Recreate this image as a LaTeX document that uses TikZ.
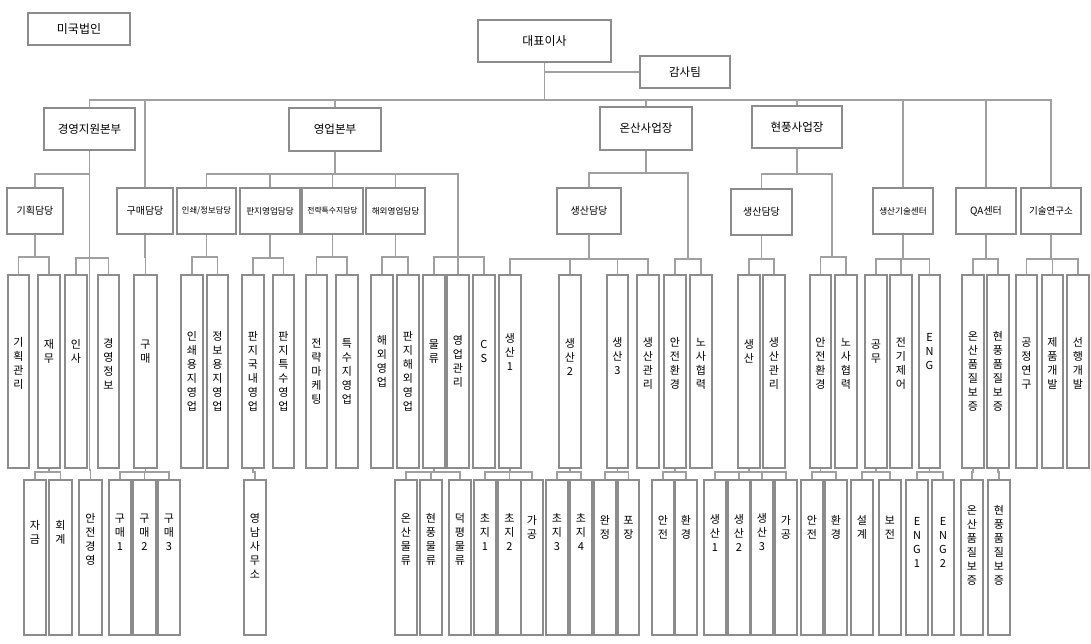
\documentclass[tikz,border=0pt]{standalone}
\usepackage{fontspec}
\setmainfont{Noto Sans CJK KR}
\definecolor{lg}{RGB}{160,160,160}
\definecolor{bg}{RGB}{140,140,140}
\tikzset{
 box/.style={draw=bg,line width=1.1pt,fill=white,inner sep=0pt,rectangle},
 txt/.style={inner sep=0pt,align=center,font=\fontsize{11pt}{14pt}\selectfont},
 ln/.style={draw=lg,line width=1.2pt}
}
\newcommand\bxx[7]{%
 \node[box,minimum width={(#3-#2)*1pt},minimum height={(#5-#4)*1pt}] (#1) at ({(#2+#3)/2},{(#4+#5)/2}) {};
 \node[txt] (#1t) at ({(#2+#3)/2},{(#4+#5)/2+#6}) {#7};}
\newcommand\cn[3]{\coordinate (tmpb) at (0,#2);
 \foreach \c in {#3} {\draw[ln] (#1.south) -- (#1.south |- tmpb) -| (\c.north);}}
\newcommand\cj[2]{\foreach \c in {#2} {\draw[ln] (#1) -| (\c.north);}}
\begin{document}
\begin{tikzpicture}[x=1pt,y=-1pt]
\useasboundingbox[fill=white] (0,0) rectangle (1091,643);
% level 0-1
\bxx{mi}{28}{130}{13}{45}{0}{\fontsize{12pt}{14pt}\selectfont 미국법인}
\bxx{ceo}{478}{611}{20}{62}{0}{\fontsize{12pt}{14pt}\selectfont 대표이사}
\bxx{audit}{640}{730}{56}{88}{0}{\fontsize{11.5pt}{14pt}\selectfont 감사팀}
\bxx{h1}{44}{135}{108}{150}{0}{\fontsize{11.5pt}{14pt}\selectfont 경영지원본부}
\bxx{h2}{289}{381}{108}{151}{0}{\fontsize{11.5pt}{14pt}\selectfont 영업본부}
\bxx{h3}{600}{692}{107}{150}{0}{\fontsize{11.5pt}{14pt}\selectfont 온산사업장}
\bxx{h4}{752}{842}{106}{148}{0}{\fontsize{11.5pt}{14pt}\selectfont 현풍사업장}
% level 2
\bxx{a1}{7}{63}{188}{234}{0}{\fontsize{10pt}{12pt}\selectfont 기획담당}
\bxx{a2}{117}{173}{188}{234}{0}{\fontsize{10pt}{12pt}\selectfont 구매담당}
\bxx{a3}{177}{236}{188}{234}{0}{\fontsize{8.3pt}{11pt}\selectfont 인쇄/정보담당}
\bxx{a4}{240}{300}{188}{234}{0}{\fontsize{8.6pt}{11pt}\selectfont 판지영업담당}
\bxx{a5}{302}{363}{188}{234}{0}{\fontsize{7.8pt}{11pt}\selectfont 전략특수지담당}
\bxx{a6}{366}{425}{188}{234}{0}{\fontsize{8.6pt}{11pt}\selectfont 해외영업담당}
\bxx{a7}{557}{621}{188}{234}{0}{\fontsize{10pt}{12pt}\selectfont 생산담당}
\bxx{a8}{731}{792}{189}{235}{0}{\fontsize{10pt}{12pt}\selectfont 생산담당}
\bxx{a9}{873}{933}{188}{234}{0}{\fontsize{8.6pt}{11pt}\selectfont 생산기술센터}
\bxx{a10}{956}{1016}{188}{234}{0}{\fontsize{10pt}{12pt}\selectfont QA센터}
\bxx{a11}{1021}{1081}{188}{234}{0}{\fontsize{9.5pt}{12pt}\selectfont 기술연구소}
% level 3
\def\ty{275}\def\by{468}\def\sh{-8}
\bxx{c1}{8}{29}{\ty}{\by}{\sh}{기\\획\\관\\리}
\bxx{c2}{38}{60}{\ty}{\by}{-20}{재\\무}
\bxx{c3}{65}{87}{\ty}{\by}{-20}{인\\사}
\bxx{c4}{98}{119}{\ty}{\by}{\sh}{경\\영\\정\\보}
\bxx{c5}{134}{157}{\ty}{\by}{-20}{구\\매}
\bxx{c6}{181}{203}{\ty}{\by}{0}{인\\쇄\\용\\지\\영\\업}
\bxx{c7}{207}{228}{\ty}{\by}{0}{정\\보\\용\\지\\영\\업}
\bxx{c8}{242}{264}{\ty}{\by}{0}{판\\지\\국\\내\\영\\업}
\bxx{c9}{273}{294}{\ty}{\by}{0}{판\\지\\특\\수\\영\\업}
\bxx{c10}{306}{327}{\ty}{\by}{0}{전\\략\\마\\케\\팅}
\bxx{c11}{336}{358}{\ty}{\by}{0}{특\\수\\지\\영\\업}
\bxx{c12}{371}{393}{\ty}{\by}{-10}{해\\외\\영\\업}
\bxx{c13}{397}{419}{\ty}{\by}{0}{판\\지\\해\\외\\영\\업}
\bxx{c14}{423}{445}{\ty}{\by}{-20}{물\\류}
\bxx{c15}{447}{469}{\ty}{\by}{-10}{영\\업\\관\\리}
\bxx{c16}{473}{495}{\ty}{\by}{-20}{C\\S}
\bxx{c17}{499}{521}{\ty}{\by}{-20}{생\\산\\1}
\bxx{c18}{559}{581}{\ty}{\by}{-15}{생\\산\\2}
\bxx{c19}{607}{628}{\ty}{\by}{-15}{생\\산\\3}
\bxx{c20}{637}{659}{\ty}{\by}{-8}{생\\산\\관\\리}
\bxx{c21}{664}{686}{\ty}{\by}{-8}{안\\전\\환\\경}
\bxx{c22}{690}{712}{\ty}{\by}{-8}{노\\사\\협\\력}
\bxx{c23}{738}{760}{\ty}{\by}{-20}{생\\산}
\bxx{c24}{763}{785}{\ty}{\by}{-8}{생\\산\\관\\리}
\bxx{c25}{810}{831}{\ty}{\by}{-8}{안\\전\\환\\경}
\bxx{c26}{835}{857}{\ty}{\by}{-8}{노\\사\\협\\력}
\bxx{c27}{865}{887}{\ty}{\by}{-20}{공\\무}
\bxx{c28}{890}{912}{\ty}{\by}{-8}{전\\기\\제\\어}
\bxx{c29}{919}{940}{\ty}{\by}{-20}{E\\N\\G}
\bxx{c30}{962}{984}{\ty}{\by}{0}{온\\산\\품\\질\\보\\증}
\bxx{c31}{987}{1009}{\ty}{\by}{0}{현\\풍\\품\\질\\보\\증}
\bxx{c32}{1016}{1037}{\ty}{\by}{-8}{공\\정\\연\\구}
\bxx{c33}{1042}{1063}{\ty}{\by}{-8}{제\\품\\개\\발}
\bxx{c34}{1067}{1089}{\ty}{\by}{-8}{선\\행\\개\\발}
% level 4
\def\ty{480}\def\by{635}\def\sh{-25}
\bxx{d1}{24}{46}{\ty}{\by}{\sh}{자\\금}
\bxx{d2}{49}{72}{\ty}{\by}{\sh}{회\\계}
\bxx{d3}{79}{102}{\ty}{\by}{-18}{안\\전\\경\\영}
\bxx{d4}{109}{131}{\ty}{\by}{\sh}{구\\매\\1}
\bxx{d5}{133}{156}{\ty}{\by}{\sh}{구\\매\\2}
\bxx{d6}{158}{180}{\ty}{\by}{\sh}{구\\매\\3}
\bxx{d7}{244}{266}{\ty}{\by}{-12}{영\\남\\사\\무\\소}
\bxx{d8}{395}{417}{\ty}{\by}{-18}{온\\산\\물\\류}
\bxx{d9}{420}{442}{\ty}{\by}{-18}{현\\풍\\물\\류}
\bxx{d10}{449}{471}{\ty}{\by}{-18}{덕\\평\\물\\류}
\bxx{d11}{474}{496}{\ty}{\by}{\sh}{초\\지\\1}
\bxx{d12}{498}{521}{\ty}{\by}{\sh}{초\\지\\2}
\bxx{d13}{521}{543}{\ty}{\by}{-30}{가\\공}
\bxx{d14}{546}{568}{\ty}{\by}{\sh}{초\\지\\3}
\bxx{d15}{570}{592}{\ty}{\by}{\sh}{초\\지\\4}
\bxx{d16}{594}{616}{\ty}{\by}{-30}{완\\정}
\bxx{d17}{618}{639}{\ty}{\by}{-30}{포\\장}
\bxx{d18}{652}{674}{\ty}{\by}{-30}{안\\전}
\bxx{d19}{675}{697}{\ty}{\by}{-30}{환\\경}
\bxx{d20}{704}{726}{\ty}{\by}{\sh}{생\\산\\1}
\bxx{d21}{728}{750}{\ty}{\by}{\sh}{생\\산\\2}
\bxx{d22}{751}{773}{\ty}{\by}{\sh}{생\\산\\3}
\bxx{d23}{775}{797}{\ty}{\by}{-30}{가\\공}
\bxx{d24}{801}{823}{\ty}{\by}{-30}{안\\전}
\bxx{d25}{825}{847}{\ty}{\by}{-30}{환\\경}
\bxx{d26}{851}{873}{\ty}{\by}{-30}{설\\계}
\bxx{d27}{879}{901}{\ty}{\by}{-30}{보\\전}
\bxx{d28}{906}{928}{\ty}{\by}{-15}{E\\N\\G\\1}
\bxx{d29}{932}{954}{\ty}{\by}{-15}{E\\N\\G\\2}
\bxx{d30}{961}{983}{\ty}{\by}{-12}{온\\산\\품\\질\\보\\증}
\bxx{d31}{988}{1010}{\ty}{\by}{-12}{현\\풍\\품\\질\\보\\증}
% connectors
\cn{ceo}{100}{h1,a2,h2,h3,h4,a9,a10,a11}
\coordinate (ja) at (ceo.south |- audit.west);
\draw[ln] (ja) -- (audit.west);
\cn{h1}{174}{a1}
\cn{h1}{258}{c3,c4}
\cn{h1}{470}{d3}
\cn{a1}{257}{c1,c2}
\cn{a2}{257}{c5}
\cn{h2}{174}{a3,a4,a5,a6,c15}
\coordinate (j2) at (c15.north |- 0,257);
\cj{j2}{c14,c16}
\cn{a3}{257}{c6,c7}
\cn{a4}{258}{c8,c9}
\cn{a5}{257}{c10,c11}
\cn{a6}{257}{c12,c13}
\cn{h3}{173}{a7}
\coordinate (j3) at (688,259);
\draw[ln] (h3.south) -- (h3.south |- 0,173) -| (j3);
\cj{j3}{c21,c22}
\cn{a7}{259}{c17,c18,c19,c20}
\cn{h4}{174}{a8}
\coordinate (j4) at (832,257);
\draw[ln] (h4.south) -- (h4.south |- 0,174) -| (j4);
\cj{j4}{c25,c26}
\cn{a8}{259}{c23,c24}
\cn{a9}{259}{c27,c28,c29}
\cn{a10}{259}{c30,c31}
\cn{a11}{259}{c32,c33,c34}
\cn{c2}{472}{d1,d2}
\cn{c5}{472}{d4,d5,d6}
\cn{c8}{472}{d7}
\cn{c14}{472}{d8,d9,d10}
\cn{c17}{472}{d11,d12,d13}
\cn{c18}{472}{d14,d15}
\cn{c19}{472}{d16,d17}
\cn{c21}{472}{d18,d19}
\cn{c23}{472}{d20,d21,d22,d23}
\cn{c25}{472}{d24,d25}
\cn{c27}{472}{d26,d27}
\cn{c29}{472}{d28,d29}
\cn{c30}{472}{d30}
\cn{c31}{472}{d31}
\end{tikzpicture}
\end{document}
